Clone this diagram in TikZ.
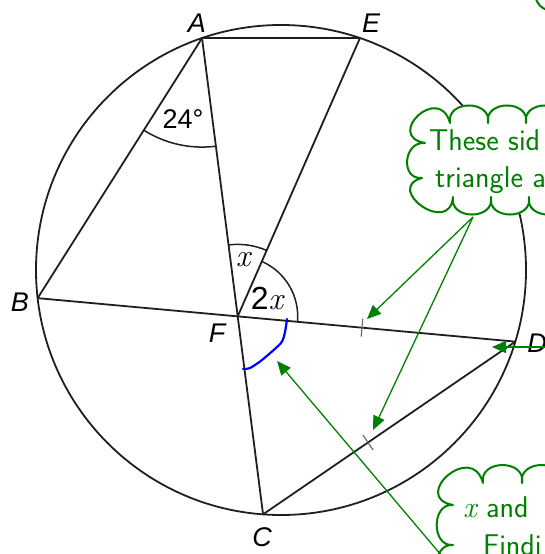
\documentclass[tikz,border=0pt]{standalone}
\usepackage{fontspec}
\usetikzlibrary{arrows.meta,angles,calc}
\newfontfamily\lblfont{Liberation Sans}
\newfontfamily\lmrfont{Latin Modern Roman}
\definecolor{cgreen}{RGB}{0,128,0}
\definecolor{cblue}{RGB}{0,0,255}
\tikzset{
  geo/.style={line width=1.8pt, black!88},
  anglearc/.style={draw, line width=1.5pt, black!88},
  tickmark/.style={line width=1.1pt, black!60},
  lbl/.style={inner sep=0pt, font=\fontsize{27}{32}\lblfont\itshape},
  lblup/.style={inner sep=0pt, font=\fontsize{27}{32}\lblfont},
  xlbl/.style={inner sep=0pt, font=\fontsize{32}{36}\lblfont},
  garrow/.style={draw=cgreen, line width=1.3pt, -{Triangle[length=14pt,width=12pt]}},
  cloudline/.style={draw=cgreen, line width=2pt},
  gtext/.style={inner sep=0pt, anchor=base west, text=cgreen, font=\fontsize{30}{36}\sffamily},
}
\begin{document}
\begin{tikzpicture}[x=1pt,y=1pt,line join=round]
\useasboundingbox (0,0) rectangle (544,-554);
% circle and points
\coordinate (O) at (281,-270);
\coordinate (A) at ($(O)+(108.8:245)$);
\coordinate (E) at ($(O)+(71.2:245)$);
\coordinate (B) at ($(O)+(186.6:245)$);
\coordinate (D) at ($(O)+(-17.0:245)$);
\coordinate (C) at ($(O)+(265.8:245)$);
\coordinate (F) at (intersection of A--C and B--D);
\draw[geo] (O) circle[radius=245pt];
\draw[geo] (A) -- (B);
\draw[geo] (A) -- (E);
\draw[geo] (A) -- (C);
\draw[geo] (B) -- (D);
\draw[geo] (E) -- (F);
\draw[geo] (C) -- (D);
% angle arcs
\pic[anglearc, angle radius=109pt] {angle=B--A--C};
\pic[anglearc, angle radius=72pt] {angle=E--F--A};
\pic[anglearc, angle radius=60pt] {angle=D--F--E};
% blue arc
\draw[cblue, line width=2.2pt, line cap=round] plot[smooth, tension=0.4] coordinates {(287,-319) (285,-332) (281,-343) (262,-360) (250,-368) (243,-369)};
% tick marks
\coordinate (k1) at ($(B)!0.679!(D)$);
\coordinate (k2) at ($(C)!0.416!(D)$);
\draw[tickmark] ($(k1)!9pt!90:(D)$) -- ($(k1)!9pt!-90:(D)$);
\draw[tickmark] ($(k2)!9pt!90:(D)$) -- ($(k2)!9pt!-90:(D)$);
% labels
\node[lbl] (lA) at (197,-23) {A};
\node[lbl] (lE) at (371,-23) {E};
\node[lbl] (lB) at (20,-302) {B};
\node[lbl] (lF) at (217,-333) {F};
\node[lbl] (lD) at (537,-343) {D};
\node[lbl] (lC) at (262,-537) {C};
\node[lblup] (l24) at (183,-119) {24°};
\node[xlbl] (lx) at (243,-260) {\lmrfont\itshape x};
\node[xlbl] (l2x) at (267,-298) {2{\lmrfont\itshape x}};
% cloud 1
\draw[cloudline, fill=white] (425,-143) to[out=170,in=105,looseness=3.3] (450,-123)
  to[out=100,in=80,looseness=1.6] (488,-123)
  to[out=100,in=80,looseness=1.6] (526,-123)
  to[out=100,in=80,looseness=1.6] (564,-123)
  to[out=100,in=80,looseness=1.6] (602,-123)
  -- (640,-123) -- (640,-197) -- (605,-197)
  to[out=280,in=260,looseness=1.6] (567,-197)
  to[out=280,in=260,looseness=1.6] (529,-197)
  to[out=280,in=260,looseness=1.6] (491,-197)
  to[out=280,in=260,looseness=1.6] (453,-197)
  to[out=265,in=195,looseness=2.8] (422,-178)
  to[out=185,in=175,looseness=1.6] cycle;
\node[gtext] (t1a) at (429,-150) {These sid};
\node[gtext] (t1b) at (435,-187) {triangle a};
% cloud 2
\draw[cloudline, fill=white] (453,-585) to[out=185,in=175,looseness=1.4] (453,-545)
  to[out=185,in=175,looseness=1.4] (453,-505)
  to[out=170,in=105,looseness=3] (483,-483)
  to[out=100,in=80,looseness=1.6] (522,-483)
  to[out=100,in=80,looseness=1.6] (561,-483) -- (600,-483) -- (600,-585) -- cycle;
\node[gtext] (t2a) at (463,-517) {{\lmrfont\itshape x} and};
\node[gtext] (t2b) at (483,-555) {Findi};
% top-right fragment
\coordinate (g1) at (536,1);
\coordinate (g2) at (547,-10);
\draw[cloudline] (g1) to[out=-70,in=160] (g2);
% green arrows
\coordinate (s1) at (473,-217);
\coordinate (h1) at (367,-319);
\coordinate (h2) at (373,-430);
\coordinate (s3) at (556,-347);
\coordinate (h3) at (492,-347);
\coordinate (s4) at (447,-562);
\coordinate (h4) at (277,-361);
\draw[garrow] (s1) -- (h1);
\draw[garrow] (s1) -- (h2);
\draw[garrow] (s3) -- (h3);
\draw[garrow] (s4) -- (h4);
\end{tikzpicture}
\end{document}
